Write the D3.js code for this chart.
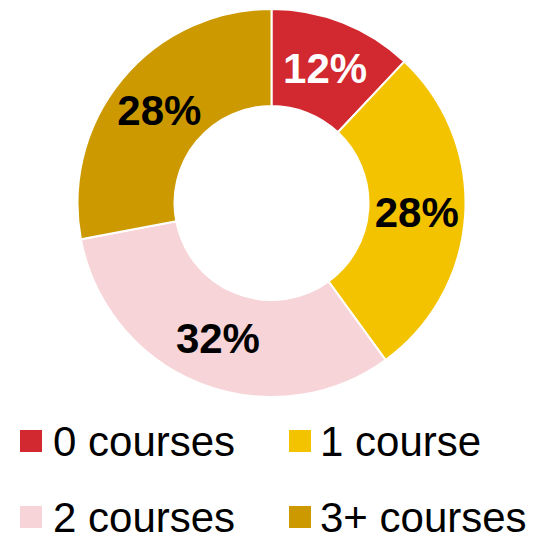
<!DOCTYPE html>
<html><head><meta charset="utf-8">
<script src="https://cdn.jsdelivr.net/npm/d3@7/dist/d3.min.js"></script>
<style>html,body{margin:0;padding:0;background:#fff;}svg{display:block;}</style>
</head><body>
<svg id="c" width="533" height="537"></svg>
<script>
const categories = ["0 courses", "1 course", "2 courses", "3+ courses"];
const values = [12, 28, 32, 28];
const colors = ["#D2282F", "#F4C300", "#F6D4D7", "#CC9900"];
const labelColors = ["#ffffff", "#000000", "#000000", "#000000"];

const svg = d3.select("#c");
const cx = 271.5, cy = 203, R = 194, r = 97;
const font = "'Liberation Sans', Arial, Helvetica, sans-serif";

const pie = d3.pie().sort(null).value(d => d)(values);
const arc = d3.arc().innerRadius(r).outerRadius(R);
const g = svg.append("g").attr("transform", `translate(${cx},${cy})`);
g.selectAll("path").data(pie).join("path")
  .attr("d", arc)
  .attr("fill", (d, i) => colors[i])
  .attr("stroke", "#fff").attr("stroke-width", 2);

g.selectAll("text").data(pie).join("text")
  .attr("transform", d => `translate(${arc.centroid(d)})`)
  .attr("text-anchor", "middle").attr("dy", "0.36em")
  .attr("font-family", font).attr("font-weight", "bold").attr("font-size", 42)
  .attr("fill", (d, i) => labelColors[i])
  .text(d => d.data + "%");

const lx = [20, 289], ly = [456, 532];
const leg = svg.append("g");
categories.forEach((c, i) => {
  const col = i % 2, row = Math.floor(i / 2);
  leg.append("rect").attr("x", lx[col]).attr("y", ly[row] - 26).attr("width", 22).attr("height", 22)
    .attr("fill", colors[i]);
  leg.append("text").attr("x", lx[col] + (col ? 31 : 33)).attr("y", ly[row])
    .attr("font-family", font).attr("font-size", 42).attr("fill", "#000").text(c);
});
</script>
</body></html>
